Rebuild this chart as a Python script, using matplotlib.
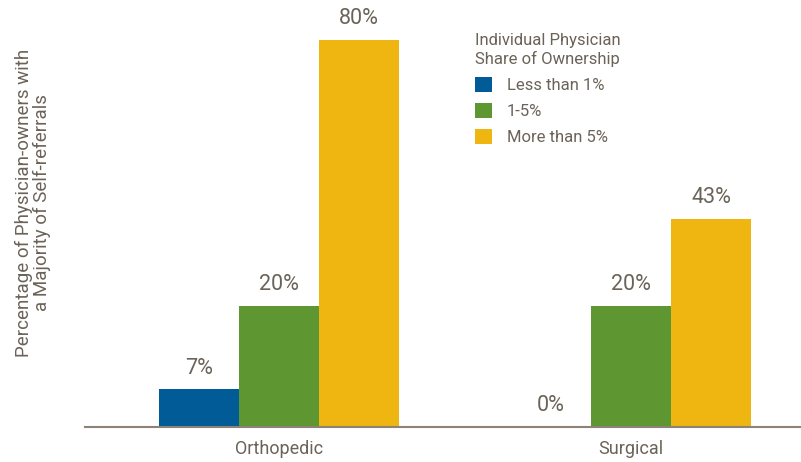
import matplotlib.pyplot as plt
from matplotlib.patches import Patch
import numpy as np

plt.rcParams["font.family"] = ["Liberation Sans Narrow", "Roboto", "DejaVu Sans"]

groups = ["Orthopedic", "Surgical"]
series = ["Less than 1%", "1-5%", "More than 5%"]
# bar heights as drawn, and the labels printed over them
heights = {
    "Less than 1%": [7.8, 0],
    "1-5%": [25, 25],
    "More than 5%": [80, 43],
}
labels = {
    "Less than 1%": ["7%", "0%"],
    "1-5%": ["20%", "20%"],
    "More than 5%": ["80%", "43%"],
}
colors = ["#005b96", "#5e9732", "#efb511"]
text_col = "#6b6358"

fig = plt.figure(figsize=(8.01, 4.62), dpi=100)
ax = fig.add_axes([85 / 801, 35 / 462, 716 / 801, 427 / 462])

x = np.arange(len(groups))
w = 80 / 352
for i, (name, c) in enumerate(zip(series, colors)):
    pos = x + (i - 1) * w
    vals = heights[name]
    ax.bar(pos, vals, width=w, color=c, linewidth=0)
    for p, v, lab in zip(pos, vals, labels[name]):
        ax.text(p, v + 2.2, lab, ha="center", va="bottom", fontsize=15.5, color=text_col)

ax.set_xlim(-194 / 352, 1 + 170 / 352)
ax.set_ylim(0, 427 / 4.84)
ax.set_xticks(x)
ax.set_xticklabels(groups, fontsize=13, color=text_col)
ax.tick_params(axis="x", length=0, pad=9)
ax.set_yticks([])
for s in ["top", "right", "left"]:
    ax.spines[s].set_visible(False)
ax.spines["bottom"].set_color("#8c8275")
ax.spines["bottom"].set_linewidth(1.5)

fig.text(33 / 801, 1 - 203 / 462,
         "Percentage of Physician-owners with\na Majority of Self-referrals",
         rotation=90, ha="center", va="center", multialignment="center",
         fontsize=13.5, color=text_col, linespacing=1.05)

handles = [Patch(facecolor=c, edgecolor="none") for c in colors]
leg = fig.legend(handles, series, title="Individual Physician\nShare of Ownership",
                 loc="upper left", bbox_to_anchor=(460 / 801, 1 - 18 / 462),
                 frameon=False, fontsize=12, title_fontsize=12,
                 handlelength=1.0, handleheight=1.0, handletextpad=0.9,
                 labelspacing=0.6, labelcolor=text_col)
leg.get_title().set_color(text_col)
leg._legend_box.align = "left"

fig.savefig("out.png", dpi=100)
